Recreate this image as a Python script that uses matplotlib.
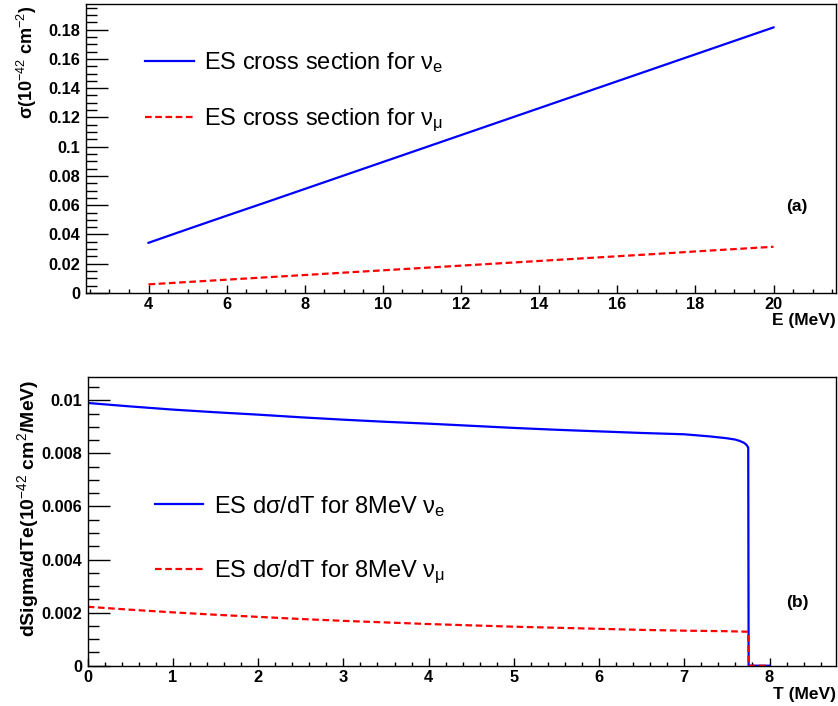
import numpy as np
import matplotlib
matplotlib.use("Agg")
import matplotlib.pyplot as plt
from matplotlib.ticker import MultipleLocator, FormatStrFormatter

plt.rcParams['font.family'] = ['Liberation Sans', 'DejaVu Sans']
plt.rcParams['mathtext.fontset'] = 'custom'
plt.rcParams['mathtext.rm'] = 'Liberation Sans'
plt.rcParams['mathtext.it'] = 'Liberation Sans:italic'
plt.rcParams['mathtext.bf'] = 'Liberation Sans:bold'

# total ES cross section vs neutrino energy
energy = [4, 5, 6, 7, 8, 9, 10, 11, 12, 13, 14, 15, 16, 17, 18, 19, 20]
sigma_e = [0.0343, 0.0436, 0.0528, 0.0619, 0.0711, 0.0803, 0.0895, 0.0987,
           0.1079, 0.1171, 0.1263, 0.1355, 0.1447, 0.1539, 0.1631, 0.1723, 0.1815]
sigma_mu = [0.0059, 0.0075, 0.0091, 0.0107, 0.0123, 0.0139, 0.0155, 0.0171,
            0.0187, 0.0203, 0.0219, 0.0235, 0.0251, 0.0267, 0.0284, 0.0300, 0.0316]

# differential cross section for 8 MeV neutrinos vs recoil energy
t_e = [0, 0.5, 1, 1.5, 2, 2.5, 3, 3.5, 4, 4.5, 5, 5.5, 6, 6.5, 7, 7.3, 7.5,
       7.6, 7.65, 7.7, 7.73, 7.75, 7.755, 8.0]
dsig_e = [0.00990, 0.00977, 0.00965, 0.00955, 0.00946, 0.00936, 0.00927,
          0.00919, 0.00912, 0.00904, 0.00896, 0.00889, 0.00883, 0.00877,
          0.00872, 0.00864, 0.00857, 0.00852, 0.00847, 0.00840, 0.00832,
          0.00822, 0.0, 0.0]
t_mu = [0, 0.5, 1, 1.5, 2, 2.5, 3, 3.5, 4, 4.5, 5, 5.5, 6, 6.5, 7, 7.5,
        7.75, 7.755, 8.0]
dsig_mu = [0.00222, 0.00211, 0.00201, 0.00192, 0.00184, 0.00176, 0.00169,
           0.00163, 0.00157, 0.00152, 0.00147, 0.00143, 0.00139, 0.00135,
           0.00132, 0.00130, 0.00128, 0.0, 0.0]

W, H = 838, 706
fig = plt.figure(figsize=(W / 100, H / 100), dpi=100)

dash = (3, 1.6)
lw = 1.6


def style_axes(ax, xmajor, xminor, ymajor, yminor, yfmt):
    ax.xaxis.set_major_locator(MultipleLocator(xmajor))
    ax.xaxis.set_minor_locator(MultipleLocator(xminor))
    ax.yaxis.set_major_locator(MultipleLocator(ymajor))
    ax.yaxis.set_minor_locator(MultipleLocator(yminor))
    ax.yaxis.set_major_formatter(FormatStrFormatter(yfmt))
    ax.xaxis.set_major_formatter(FormatStrFormatter('%g'))
    ax.tick_params(axis='both', which='both', direction='in', top=False,
                   right=False, width=1.0)
    ax.tick_params(axis='y', which='major', length=16, pad=4)
    ax.tick_params(axis='y', which='minor', length=8)
    ax.tick_params(axis='x', which='major', length=6, pad=3)
    ax.tick_params(axis='x', which='minor', length=3)
    for lab in ax.get_xticklabels() + ax.get_yticklabels():
        lab.set_fontweight('bold')
        lab.set_fontsize(11.8)
    for sp in ax.spines.values():
        sp.set_linewidth(1.0)


# (a) total cross section
ax1 = fig.add_axes([86 / W, 1 - 293 / H, 750 / W, 289 / H])
ax1.plot(energy, sigma_e, color='#0000ff', lw=lw,
         label=r'ES cross section for ν$_\mathrm{e}$')
ax1.plot(energy, sigma_mu, color='#ff0000', lw=lw, dashes=dash,
         label=r'ES cross section for ν$_\mathrm{μ}$')
ax1.set_xlim(2.4, 21.6)
ax1.set_ylim(0, 0.1975)
style_axes(ax1, 2, 0.5, 0.02, 0.005, '%g')
ax1.legend(loc='upper left', bbox_to_anchor=(0.078, 0.84), frameon=False,
           fontsize=17, handlelength=2.1, handletextpad=0.42,
           labelspacing=1.35, borderpad=0, borderaxespad=0)
ax1.text(0.948, 0.298, '(a)', transform=ax1.transAxes, ha='center',
         va='center', fontsize=12.5, fontweight='bold')
ax1.text(-0.079, 0.995, r'σ(10$^{-42}$ cm$^{-2}$)', transform=ax1.transAxes,
         rotation=90, ha='center', va='top', fontsize=13, fontweight='bold')
ax1.text(1.0, -0.095, 'E (MeV)', transform=ax1.transAxes, ha='right',
         va='center', fontsize=12.5, fontweight='bold')

# (b) differential cross section at 8 MeV
ax2 = fig.add_axes([87.7 / W, 1 - 665.7 / H, 748.3 / W, 289 / H])
ax2.plot(t_e, dsig_e, color='#0000ff', lw=lw,
         label=r'ES dσ/dT for 8MeV ν$_\mathrm{e}$')
ax2.plot(t_mu, dsig_mu, color='#ff0000', lw=lw, dashes=dash,
         label=r'ES dσ/dT for 8MeV ν$_\mathrm{μ}$')
ax2.set_xlim(0, 8.78)
ax2.set_ylim(0, 0.01089)
style_axes(ax2, 1, 0.2, 0.002, 0.0005, '%g')
ax2.legend(loc='upper left', bbox_to_anchor=(0.09, 0.595), frameon=False,
           fontsize=17, handlelength=2.05, handletextpad=0.45,
           labelspacing=1.7, borderpad=0, borderaxespad=0)
ax2.text(0.949, 0.22, '(b)', transform=ax2.transAxes, ha='center',
         va='center', fontsize=12.5, fontweight='bold')
ax2.text(-0.08, 0.99, r'dSigma/dTe(10$^{-42}$ cm$^{2}$/MeV)',
         transform=ax2.transAxes, rotation=90, ha='center', va='top',
         fontsize=14, fontweight='bold')
ax2.text(1.0, -0.1, 'T (MeV)', transform=ax2.transAxes, ha='right',
         va='center', fontsize=12.5, fontweight='bold')

fig.savefig('out.png', dpi=100)
